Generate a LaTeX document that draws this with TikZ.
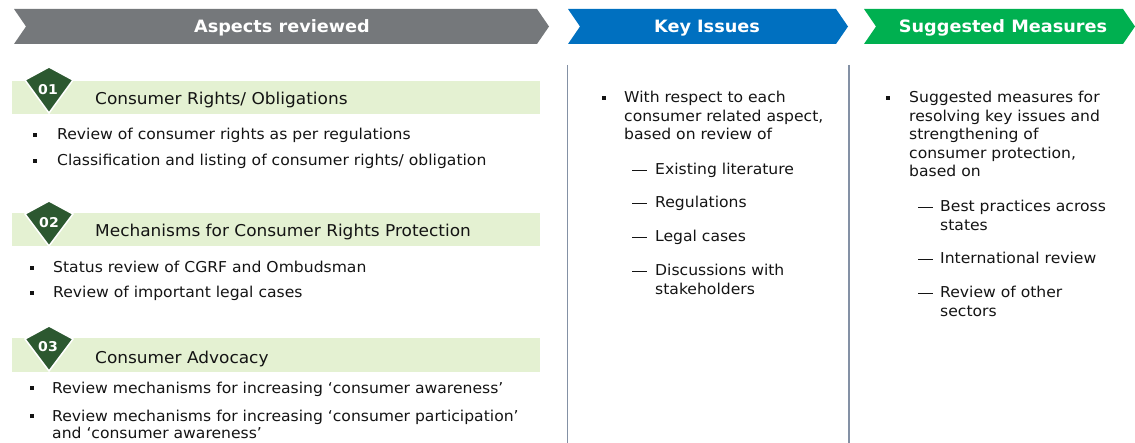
\documentclass[tikz,border=0pt]{standalone}
\usepackage{fontspec}
\setmainfont[FakeStretch=1.04]{DejaVu Sans}
\definecolor{hdrgrey}{RGB}{117,120,123}
\definecolor{hdrblue}{RGB}{0,112,192}
\definecolor{hdrgreen}{RGB}{0,176,80}
\definecolor{barlight}{RGB}{228,241,210}
\definecolor{badgegreen}{RGB}{44,88,48}
\definecolor{rulegrey}{RGB}{132,145,165}
\definecolor{bodytext}{RGB}{20,20,20}
\newcommand\squarebullet{\rule[3pt]{4pt}{4pt}}
\newcommand\dashmark{\rule[4.5pt]{15pt}{0.9pt}}
\begin{document}
\begin{tikzpicture}[x=1pt,y=-1pt,
  hdrtext/.style={anchor=base,text=white,inner sep=0,font=\fontsize{17}{20}\selectfont\bfseries},
  badgenum/.style={text=white,inner sep=0,font=\fontsize{13.5}{15}\selectfont\bfseries},
  badge/.style={fill=badgegreen,draw=white,line width=1.5pt,line join=miter},
  bartitle/.style={anchor=base west,inner sep=0,text=bodytext,font=\fontsize{16.3}{19}\selectfont},
  item/.style={anchor=base west,inner sep=0,text=bodytext,font=\fontsize{15}{18.5}\selectfont},
  colrule/.style={draw=rulegrey,line width=1.3pt}]
\useasboundingbox (0,0) rectangle (1135,443);

% column headers (chevrons)
\fill[hdrgrey] (14,9) -- (537,9) -- (549,26.5) -- (537,44) -- (14,44) -- (26,26.5) -- cycle;
\node[hdrtext] (hA) at (282,33) {Aspects reviewed};
\fill[hdrblue] (568,9) -- (836,9) -- (848,26.5) -- (836,44) -- (568,44) -- (580,26.5) -- cycle;
\node[hdrtext] (hK) at (707,33) {Key Issues};
\fill[hdrgreen] (864,9) -- (1123,9) -- (1135,26.5) -- (1123,44) -- (864,44) -- (876,26.5) -- cycle;
\node[hdrtext] (hS) at (1003,33) {Suggested Measures};

% column separators
\draw[colrule] (567.5,65) -- (567.5,443);
\draw[colrule] (849,65) -- (849,443);

% aspect 01
\fill[barlight] (12,81) rectangle (540,114);
\draw[badge] (49,67) -- (73,80) -- (49,113) -- (25,80) -- cycle;
\node[badgenum] (n1) at (48,90) {01};
\node[bartitle] (t1) at (95,105) {Consumer Rights/ Obligations};
\node[item] (a11) at (33,140) {\makebox[24pt][l]{\squarebullet}Review of consumer rights as per regulations};
\node[item] (a12) at (33,166) {\makebox[24pt][l]{\squarebullet}Classification and listing of consumer rights/ obligation};

% aspect 02
\fill[barlight] (12,213) rectangle (540,246);
\draw[badge] (49,201) -- (73,214) -- (49,246) -- (25,214) -- cycle;
\node[badgenum] (n2) at (49,223) {02};
\node[bartitle] (t2) at (95,237) {Mechanisms for Consumer Rights Protection};
\node[item] (a21) at (30,273) {\makebox[23pt][l]{\squarebullet}Status review of CGRF and Ombudsman};
\node[item] (a22) at (30,298) {\makebox[23pt][l]{\squarebullet}Review of important legal cases};

% aspect 03
\fill[barlight] (12,338) rectangle (540,372);
\draw[badge] (49,326) -- (73,339) -- (49,371) -- (25,339) -- cycle;
\node[badgenum] (n3) at (48,347) {03};
\node[bartitle] (t3) at (95,363) {Consumer Advocacy};
\node[item] (a31) at (30,393) {\makebox[22pt][l]{\squarebullet}Review mechanisms for increasing ‘consumer awareness’};
\node[item,font=\fontsize{15}{17.5}\selectfont] (a32) at (30,421) {\parbox[t]{500pt}{\hangindent=22pt\hangafter=1\makebox[22pt][l]{\squarebullet}Review mechanisms for increasing ‘consumer participation’\\and ‘consumer awareness’}};

% key issues
\node[item] (k1) at (602,103) {\parbox[t]{240pt}{\hangindent=22pt\hangafter=1\makebox[22pt][l]{\squarebullet}With respect to each\\consumer related aspect,\\based on review of}};
\node[item] (k2) at (632,175) {\makebox[23pt][l]{\dashmark}Existing literature};
\node[item] (k3) at (632,208) {\makebox[23pt][l]{\dashmark}Regulations};
\node[item] (k4) at (632,242) {\makebox[23pt][l]{\dashmark}Legal cases};
\node[item] (k5) at (632,276) {\parbox[t]{200pt}{\hangindent=23pt\hangafter=1\makebox[23pt][l]{\dashmark}Discussions with\\stakeholders}};

% suggested measures
\node[item] (s1) at (886,103) {\parbox[t]{240pt}{\hangindent=23pt\hangafter=1\makebox[23pt][l]{\squarebullet}Suggested measures for\\resolving key issues and\\strengthening of\\consumer protection,\\based on}};
\node[item] (s2) at (918,212) {\parbox[t]{200pt}{\hangindent=22pt\hangafter=1\makebox[22pt][l]{\dashmark}Best practices across\\states}};
\node[item] (s3) at (918,264) {\makebox[22pt][l]{\dashmark}International review};
\node[item] (s4) at (918,298) {\parbox[t]{200pt}{\hangindent=22pt\hangafter=1\makebox[22pt][l]{\dashmark}Review of other\\sectors}};
\end{tikzpicture}
\end{document}
